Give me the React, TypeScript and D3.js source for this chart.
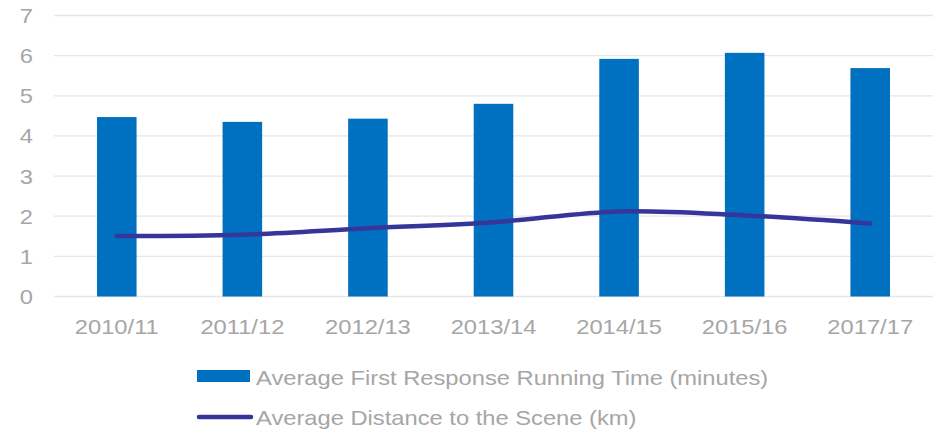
import React, { useEffect, useRef } from "react";
import * as d3 from "d3";

const years = ["2010/11", "2011/12", "2012/13", "2013/14", "2014/15", "2015/16", "2017/17"];
const runningTime = [4.47, 4.35, 4.43, 4.8, 5.92, 6.07, 5.69];
const distance = [1.51, 1.54, 1.7, 1.85, 2.12, 2.02, 1.82];
const yTicks = [0, 1, 2, 3, 4, 5, 6, 7];

const barColor = "#0070C0";
const lineColor = "#35359a";
const textColor = "#a6a6a6";
const font = "'Liberation Sans', Arial, sans-serif";
const stretch = 1.13; // reference text is a bit wider than plain Arial

const App = () => {
  const svgRef = useRef<SVGSVGElement>(null);

  useEffect(() => {
    const svg = d3.select(svgRef.current);
    svg.selectAll("*").remove();

    const left = 54;
    const right = 933;
    const top = 15.5;
    const bottom = 296.5;

    const x = d3
      .scaleBand()
      .domain(years)
      .range([left, right])
      .paddingInner(0.685)
      .paddingOuter(0.3425);

    const y = d3.scaleLinear().domain([0, 7]).range([bottom, top]);

    const label = (g, tx: number, ty: number, anchor: string, txt: string) => {
      g.append("g")
        .attr("transform", `translate(${tx},${ty}) scale(${stretch},1)`)
        .append("text")
        .attr("dy", "0.36em")
        .attr("text-anchor", anchor)
        .attr("fill", textColor)
        .style("font-family", font)
        .style("font-size", "21px")
        .text(txt);
    };

    // gridlines
    svg
      .append("g")
      .selectAll("line")
      .data(yTicks)
      .enter()
      .append("line")
      .attr("x1", left)
      .attr("x2", right)
      .attr("y1", (d) => y(d))
      .attr("y2", (d) => y(d))
      .attr("stroke", "#e6e6e6")
      .attr("stroke-width", 1.3);

    // y labels
    const yAxisG = svg.append("g");
    yTicks.forEach((d) => label(yAxisG, 33, y(d), "end", String(d)));

    // x labels
    const xAxisG = svg.append("g");
    years.forEach((d) => label(xAxisG, x(d)! + x.bandwidth() / 2, 326, "middle", d));

    // bars
    svg
      .append("g")
      .selectAll("rect")
      .data(runningTime)
      .enter()
      .append("rect")
      .attr("x", (d, i) => x(years[i])!)
      .attr("y", (d) => y(d))
      .attr("width", x.bandwidth())
      .attr("height", (d) => bottom - y(d))
      .attr("fill", barColor);

    // line
    const line = d3
      .line<number>()
      .x((d, i) => x(years[i])! + x.bandwidth() / 2)
      .y((d) => y(d))
      .curve(d3.curveCatmullRom.alpha(0.5));

    svg
      .append("path")
      .datum(distance)
      .attr("d", line)
      .attr("fill", "none")
      .attr("stroke", lineColor)
      .attr("stroke-width", 4.5)
      .attr("stroke-linecap", "round")
      .attr("stroke-linejoin", "round");

    // legend
    const legend = svg.append("g");
    legend
      .append("rect")
      .attr("x", 197)
      .attr("y", 370)
      .attr("width", 53)
      .attr("height", 12)
      .attr("fill", barColor);
    label(legend, 256, 377, "start", "Average First Response Running Time (minutes)");

    legend
      .append("line")
      .attr("x1", 199)
      .attr("x2", 251)
      .attr("y1", 417)
      .attr("y2", 417)
      .attr("stroke", lineColor)
      .attr("stroke-width", 4.5)
      .attr("stroke-linecap", "round");
    label(legend, 256, 417, "start", "Average Distance to the Scene (km)");
  }, []);

  return (
    <svg
      ref={svgRef}
      width={933}
      height={432}
      style={{ position: "absolute", left: 0, top: 0, background: "#fff" }}
    />
  );
};

export default App;
